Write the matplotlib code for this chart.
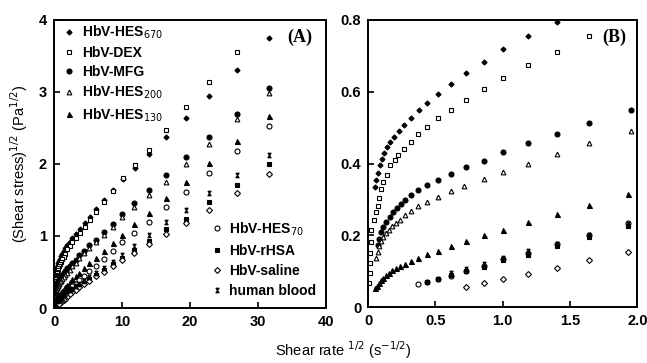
import matplotlib
matplotlib.use('Agg')
import matplotlib.pyplot as plt
from matplotlib.path import Path

plt.rcParams['font.family'] = ['Liberation Sans', 'DejaVu Sans']

# sqrt(shear rate) / sqrt(shear stress) readings for each suspension
hes670_x = [31.6, 26.9, 22.8, 19.4, 16.5, 14.0, 11.9, 10.1, 8.6, 7.3, 6.2, 5.3, 4.5, 3.8, 3.2, 2.7, 2.3,
            1.95, 1.64, 1.40, 1.19, 1.0, 0.86, 0.726, 0.615, 0.52, 0.44, 0.38, 0.32, 0.27, 0.23, 0.195,
            0.165, 0.14, 0.118, 0.10, 0.085, 0.072, 0.061, 0.052]
hes670_y = [3.75, 3.31, 2.94, 2.64, 2.38, 2.14, 1.95, 1.79, 1.64, 1.50, 1.38, 1.27, 1.18, 1.10, 1.03, 0.97, 0.92,
            0.87, 0.835, 0.795, 0.756, 0.719, 0.683, 0.651, 0.622, 0.594, 0.570, 0.549, 0.528, 0.508, 0.490, 0.475,
            0.460, 0.445, 0.428, 0.412, 0.395, 0.375, 0.355, 0.335]

dex_x = [26.9, 22.8, 19.4, 16.5, 14.0, 11.9, 10.1, 8.6, 7.3, 6.2, 5.3, 4.5, 3.8, 3.2, 2.7, 2.3, 1.95,
         1.64, 1.40, 1.19, 1.0, 0.86, 0.726, 0.615, 0.52, 0.44, 0.374, 0.315, 0.263, 0.225, 0.196, 0.164,
         0.139, 0.109, 0.097, 0.08, 0.072, 0.06, 0.04, 0.022, 0.018, 0.014, 0.012, 0.011, 0.010]
dex_y = [3.56, 3.14, 2.79, 2.47, 2.19, 1.99, 1.80, 1.62, 1.47, 1.34, 1.22, 1.12, 1.04, 0.97, 0.91, 0.86, 0.82,
         0.756, 0.712, 0.675, 0.638, 0.607, 0.577, 0.549, 0.527, 0.502, 0.481, 0.459, 0.441, 0.425, 0.41, 0.397,
         0.369, 0.348, 0.33, 0.305, 0.283, 0.265, 0.242, 0.214, 0.181, 0.15, 0.122, 0.094, 0.066]

mfg_x = [31.6, 26.9, 22.8, 19.4, 16.5, 13.9, 11.8, 10.0, 8.6, 7.3, 6.1, 5.2, 4.4, 3.7, 3.2, 2.7, 2.3,
         1.95, 1.64, 1.40, 1.19, 1.0, 0.86, 0.726, 0.615, 0.52, 0.44, 0.374, 0.32, 0.277, 0.245, 0.213,
         0.183, 0.159, 0.134, 0.114, 0.097, 0.084, 0.072]
mfg_y = [3.05, 2.69, 2.37, 2.10, 1.85, 1.64, 1.46, 1.31, 1.17, 1.05, 0.95, 0.87, 0.79, 0.73, 0.67, 0.63, 0.59,
         0.549, 0.512, 0.482, 0.456, 0.431, 0.408, 0.39, 0.371, 0.355, 0.341, 0.325, 0.311, 0.297, 0.286, 0.277,
         0.265, 0.251, 0.237, 0.223, 0.209, 0.191, 0.172]

hes200_x = [31.6, 26.9, 22.8, 19.4, 16.5, 13.9, 11.8, 10.0, 8.6, 7.3, 6.1, 5.2, 4.4, 3.7, 3.2, 2.7, 2.3,
            1.95, 1.64, 1.40, 1.19, 1.0, 0.86, 0.71, 0.615, 0.52, 0.44, 0.374, 0.32, 0.277, 0.24, 0.21,
            0.18, 0.154, 0.134, 0.114, 0.097, 0.084, 0.072, 0.06]
hes200_y = [2.99, 2.62, 2.28, 2.00, 1.75, 1.57, 1.40, 1.26, 1.12, 1.01, 0.92, 0.83, 0.76, 0.69, 0.63, 0.58, 0.53,
            0.49, 0.456, 0.427, 0.399, 0.376, 0.357, 0.337, 0.323, 0.306, 0.294, 0.281, 0.268, 0.256, 0.244, 0.235,
            0.225, 0.216, 0.206, 0.195, 0.184, 0.169, 0.154, 0.136]

hes130_x = [31.6, 26.9, 22.8, 19.4, 16.5, 13.9, 11.8, 10.0, 8.6, 7.3, 6.1, 5.2, 4.4, 3.7, 3.2, 2.7, 2.3,
            1.93, 1.64, 1.40, 1.19, 1.0, 0.86, 0.726, 0.615, 0.52, 0.44, 0.374, 0.32, 0.277, 0.24, 0.21,
            0.18, 0.154, 0.134, 0.114, 0.097, 0.08, 0.065, 0.05]
hes130_y = [2.66, 2.32, 2.01, 1.75, 1.53, 1.32, 1.16, 1.02, 0.90, 0.79, 0.70, 0.62, 0.55, 0.49, 0.44, 0.40, 0.36,
            0.314, 0.285, 0.26, 0.237, 0.216, 0.2, 0.184, 0.169, 0.157, 0.148, 0.138, 0.129, 0.121, 0.115, 0.109,
            0.103, 0.096, 0.089, 0.082, 0.075, 0.068, 0.06, 0.053]

hes70_x = [31.6, 26.9, 22.8, 19.4, 16.5, 13.9, 11.8, 10.0, 8.6, 7.3, 6.1, 5.2, 4.4, 3.7, 3.2, 2.7, 2.3,
           1.93, 1.64, 1.40, 1.19, 1.0, 0.86, 0.726, 0.615, 0.52, 0.44, 0.367]
hes70_y = [2.53, 2.18, 1.87, 1.61, 1.40, 1.20, 1.04, 0.91, 0.79, 0.68, 0.59, 0.51, 0.45, 0.39, 0.34, 0.30, 0.27,
           0.235, 0.20, 0.175, 0.15, 0.133, 0.115, 0.10, 0.088, 0.077, 0.069, 0.064]

rhsa_x = [31.6, 26.9, 22.8, 19.4, 16.5, 13.9, 11.8, 10.0, 8.6, 7.3, 6.1, 5.2, 4.4, 3.7, 3.2, 2.7, 2.3,
          1.93, 1.64, 1.40, 1.19, 1.0, 0.86, 0.726, 0.615, 0.52, 0.44]
rhsa_y = [2.00, 1.71, 1.47, 1.23, 1.10, 0.93, 0.81, 0.70, 0.61, 0.53, 0.46, 0.40, 0.35, 0.31, 0.29, 0.265, 0.245,
          0.226, 0.196, 0.170, 0.146, 0.130, 0.113, 0.100, 0.090, 0.079, 0.070]

saline_x = [31.6, 26.9, 22.8, 19.4, 16.5, 13.9, 11.8, 10.0, 8.6, 7.3, 6.1, 5.2, 4.4, 3.7, 3.2, 2.7, 2.3,
            1.93, 1.64, 1.40, 1.19, 1.0, 0.86, 0.726]
saline_y = [1.86, 1.60, 1.36, 1.18, 1.03, 0.89, 0.77, 0.67, 0.58, 0.50, 0.44, 0.38, 0.33, 0.29, 0.25, 0.22, 0.19,
            0.154, 0.131, 0.109, 0.092, 0.078, 0.066, 0.055]

blood_x = [31.6, 26.9, 22.8, 19.4, 16.5, 13.9, 11.8, 10.0, 8.6, 7.3, 6.1, 5.2, 4.4, 3.7, 3.2, 2.7, 2.3,
           1.93, 1.64, 1.40, 1.19, 1.0, 0.86, 0.726, 0.615]
blood_y = [2.13, 1.85, 1.60, 1.36, 1.19, 1.01, 0.86, 0.74, 0.64, 0.56, 0.49, 0.43, 0.38, 0.33, 0.30, 0.27, 0.25,
           0.232, 0.20, 0.176, 0.155, 0.138, 0.12, 0.105, 0.095]

# hourglass marker used for human blood
hourglass = Path([(-0.7, 1), (0.7, 1), (-0.7, -1), (0.7, -1), (-0.7, 1)])

series = [
    ('HbV-HES$_{670}$', hes670_x, hes670_y, dict(marker='D', mfc='k', ms=2.6)),
    ('HbV-DEX', dex_x, dex_y, dict(marker='s', mfc='white', ms=3.3)),
    ('HbV-MFG', mfg_x, mfg_y, dict(marker='o', mfc='k', ms=3.6)),
    ('HbV-HES$_{200}$', hes200_x, hes200_y, dict(marker='^', mfc='white', ms=3.4)),
    ('HbV-HES$_{130}$', hes130_x, hes130_y, dict(marker='^', mfc='k', ms=3.6)),
    ('HbV-HES$_{70}$', hes70_x, hes70_y, dict(marker='o', mfc='white', ms=3.6)),
    ('HbV-rHSA', rhsa_x, rhsa_y, dict(marker='s', mfc='k', ms=3.4)),
    ('HbV-saline', saline_x, saline_y, dict(marker='D', mfc='white', ms=3.0)),
    ('human blood', blood_x, blood_y, dict(marker=hourglass, mfc='k', ms=3.3)),
]

fig = plt.figure(figsize=(6.47, 3.63), dpi=100)
axA = fig.add_axes([0.0835, 0.1515, 0.4205, 0.7935])
axB = fig.add_axes([0.569, 0.154, 0.416, 0.791])

handles = []
for label, xs, ys, st in series:
    for ax in (axA, axB):
        h, = ax.plot(xs, ys, linestyle='none', mec='k', mew=0.8, **st)
    handles.append(h)

tickfont = dict(fontsize=10.5, fontweight='bold')
for ax in (axA, axB):
    ax.tick_params(direction='in', length=4, width=1.2, top=False, right=False, pad=5)
    for sp in ax.spines.values():
        sp.set_linewidth(1.4)

axA.set_xlim(0, 40)
axA.set_ylim(0, 4)
axA.set_xticks([0, 10, 20, 30, 40])
axA.set_xticklabels(['0', '10', '20', '30', '40'], **tickfont)
axA.set_yticks([0, 1, 2, 3, 4])
axA.set_yticklabels(['0', '1', '2', '3', '4'], **tickfont)

axB.set_xlim(0, 2.0)
axB.set_ylim(0, 0.8)
axB.set_xticks([0, 0.5, 1.0, 1.5, 2.0])
axB.set_xticklabels(['0', '0.5', '1.0', '1.5', '2.0'], **tickfont)
axB.set_yticks([0, 0.2, 0.4, 0.6, 0.8])
axB.set_yticklabels(['0', '0.2', '0.4', '0.6', '0.8'], **tickfont)

axA.text(0.95, 0.94, '(A)', transform=axA.transAxes, ha='right', va='center',
         family='Liberation Serif', fontweight='bold', fontsize=13)
axB.text(0.96, 0.94, '(B)', transform=axB.transAxes, ha='right', va='center',
         family='Liberation Serif', fontweight='bold', fontsize=13)

legfont = dict(size=10, weight='bold')
leg1 = axA.legend(handles[:5], [s[0] for s in series[:5]], loc='upper left',
                  bbox_to_anchor=(0.0, 1.02), frameon=False, prop=legfont,
                  handlelength=0.8, handletextpad=0.5, labelspacing=0.35, borderaxespad=0.3)
axA.add_artist(leg1)
axA.legend(handles[5:], [s[0] for s in series[5:]], loc='lower right',
           bbox_to_anchor=(1.0, 0.0), frameon=False, prop=legfont,
           handlelength=0.8, handletextpad=0.5, labelspacing=0.45, borderaxespad=0.3)

axA.set_ylabel('(Shear stress)$^{1/2}$ (Pa$^{1/2}$)', fontsize=10.5, labelpad=6)
fig.text(0.53, 0.035, 'Shear rate $^{1/2}$ (s$^{-1/2}$)', ha='center', va='center', fontsize=10.5)

fig.savefig('out.png', dpi=100)
